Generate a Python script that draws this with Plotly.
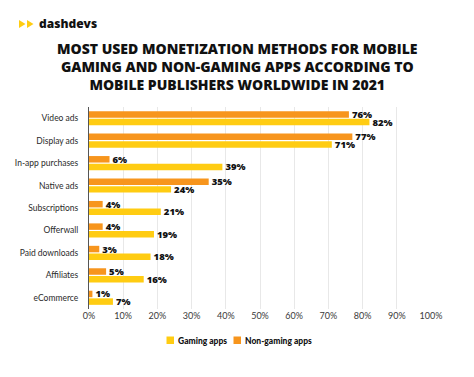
import plotly.graph_objects as go

categories = ["Video ads", "Display ads", "In-app purchases", "Native ads", "Subscriptions",
              "Offerwall", "Paid downloads", "Affiliates", "eCommerce"]
gaming = [82, 71, 39, 24, 21, 19, 18, 16, 7]
non_gaming = [76, 77, 6, 35, 4, 4, 3, 5, 1]
tick_vals = [0, 10, 20, 30, 40, 50, 60, 70, 80, 90, 100]
tick_text = [f"{v}%" for v in tick_vals]
series_names = ["Gaming apps", "Non-gaming apps"]
title_lines = ["MOST USED MONETIZATION METHODS FOR MOBILE",
               "GAMING AND NON-GAMING APPS ACCORDING TO",
               "MOBILE PUBLISHERS WORLDWIDE IN 2021"]

YELLOW = "#FFCC12"
ORANGE = "#F7951D"
FONT = "Lato"
TFONT = "Open Sans"

# page has an 8px body margin; figure sized to fit the window
OFF = 8
W, H = 474 - OFF, 377 - OFF
L, R, T, B = 81, 43, 99, 68
PW, PH = W - L - R, H - T - B


def px(xw):
    return (xw - OFF - L) / PW


def py(yw):
    return (H - B - (yw - OFF)) / PH


fig = go.Figure()
for vals, color, name in ((gaming, YELLOW, series_names[0]), (non_gaming, ORANGE, series_names[1])):
    fig.add_trace(go.Bar(
        y=categories, x=vals, orientation="h", name=name,
        marker=dict(color=color, line=dict(width=0)),
        text=[f"{v}%" for v in vals], textposition="outside", constraintext="none",
        textfont=dict(family=TFONT, size=9.5, color="#111", weight=800), cliponaxis=False,
    ))

fig.update_layout(
    width=W, height=H,
    margin=dict(l=L, r=R, t=T, b=B, autoexpand=False),
    paper_bgcolor="white", plot_bgcolor="white",
    barmode="group", bargap=0.32, bargroupgap=0.15,
    showlegend=False,
    font=dict(family=FONT, size=8.5, color="#2a2a2a"),
    xaxis=dict(range=[0, 100], tickvals=tick_vals, ticktext=tick_text, automargin=False,
               showgrid=True, gridcolor="#E8E8E8", gridwidth=1, zeroline=False,
               showline=False, ticks="", tickfont=dict(size=9, color="#3a3a3a")),
    yaxis=dict(categoryorder="array", categoryarray=categories[::-1], automargin=False,
               showline=True, linecolor="#555", linewidth=1, ticks="",
               ticklabelstandoff=8, tickfont=dict(size=8.5, color="#2a2a2a")),
)

# title
fig.add_annotation(
    text="<br>".join(title_lines), xref="paper", yref="paper", x=px(237), y=py(66),
    xanchor="center", yanchor="middle", showarrow=False, align="center",
    font=dict(family=TFONT, size=14, color="#111", weight=800),
)

# logo
for x0 in (19, 27):
    fig.add_shape(type="path", xref="paper", yref="paper",
                  path=f"M {px(x0)} {py(20)} L {px(x0 + 6.5)} {py(24)} L {px(x0)} {py(28)} Z",
                  fillcolor=YELLOW, line=dict(width=0))
fig.add_annotation(
    text="dashdevs", xref="paper", yref="paper", x=px(37), y=py(23.5),
    xanchor="left", yanchor="middle", showarrow=False,
    font=dict(family=TFONT, size=12, color="#111", weight=800),
)

# legend
for (sq_x, txt_x, color, name) in ((166.5, 175.5, YELLOW, series_names[0]),
                                  (233.5, 242.5, ORANGE, series_names[1])):
    fig.add_shape(type="rect", xref="paper", yref="paper",
                  x0=px(sq_x), x1=px(sq_x + 7.5), y0=py(336.5), y1=py(344),
                  fillcolor=color, line=dict(width=0))
    fig.add_annotation(
        text=name, xref="paper", yref="paper", x=px(txt_x), y=py(340.5),
        xanchor="left", yanchor="middle", showarrow=False,
        font=dict(family=FONT, size=8.5, color="#111", weight=900),
    )

fig.write_html("out.html")
